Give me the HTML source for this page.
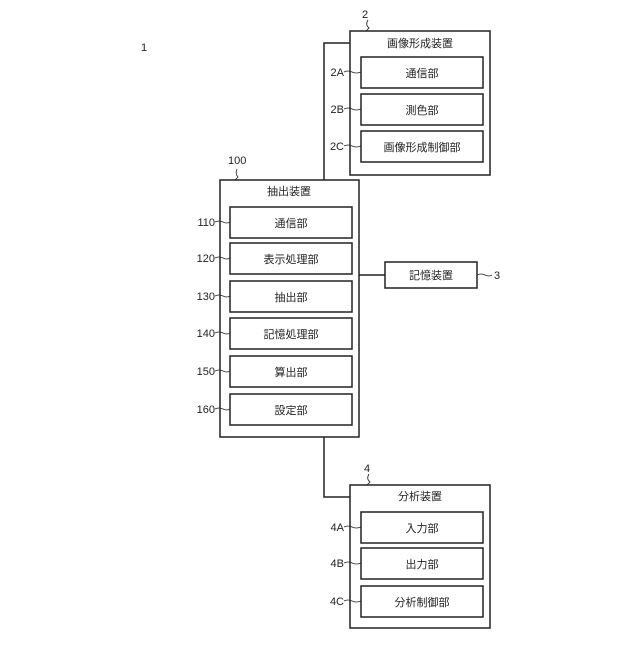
<!DOCTYPE html>
<html><head><meta charset="utf-8"><style>
body{margin:0;background:#fff;}
svg text{font-family:"Liberation Sans","Noto Sans CJK JP",sans-serif;font-size:11px;fill:#222;}
</style></head><body>
<svg width="640" height="640" viewBox="0 0 640 640" xmlns="http://www.w3.org/2000/svg">
<g fill="none" stroke="#222" stroke-width="1.5">
<rect x="350" y="31" width="140" height="144"/>
<rect x="361" y="57" width="122" height="31"/>
<rect x="361" y="94" width="122" height="31"/>
<rect x="361" y="131" width="122" height="31"/>
<polyline points="350,43 324,43 324,180"/>
<rect x="220" y="180" width="139" height="257"/>
<rect x="230" y="207" width="122" height="31"/>
<rect x="230" y="243" width="122" height="31"/>
<rect x="230" y="281" width="122" height="31"/>
<rect x="230" y="318" width="122" height="31"/>
<rect x="230" y="356" width="122" height="31"/>
<rect x="230" y="394" width="122" height="31"/>
<line x1="359" y1="275" x2="385" y2="275"/>
<rect x="385" y="262" width="92" height="26"/>
<polyline points="324,437 324,497 350,497"/>
<rect x="350" y="485" width="140" height="143"/>
<rect x="361" y="512" width="122" height="31"/>
<rect x="361" y="548" width="122" height="31"/>
<rect x="361" y="586" width="122" height="31"/>
</g>
<g fill="none" stroke="#222" stroke-width="0.8">
<path d="M368,20 q-3,5 1,8 q-2,2 -3,3"/>
<path d="M237,169 q-2,5 1,8 q-2,2 -3,3"/>
<path d="M369,474 q-3,5 1,8 q-2,2 -3,3"/>
<path d="M344,72 q4,-2 8,0 q4,2 9,0"/>
<path d="M344,109 q4,-2 8,0 q4,2 9,0"/>
<path d="M344,146 q4,-2 8,0 q4,2 9,0"/>
<path d="M344,527 q4,-2 8,0 q4,2 9,0"/>
<path d="M344,563 q4,-2 8,0 q4,2 9,0"/>
<path d="M344,601 q4,-2 8,0 q4,2 9,0"/>
<path d="M215,222 q4,-2 8,0 q4,2 7,0"/>
<path d="M215,258 q4,-2 8,0 q4,2 7,0"/>
<path d="M215,296 q4,-2 8,0 q4,2 7,0"/>
<path d="M215,333 q4,-2 8,0 q4,2 7,0"/>
<path d="M215,371 q4,-2 8,0 q4,2 7,0"/>
<path d="M215,409 q4,-2 8,0 q4,2 7,0"/>
<path d="M477,275 q4,-2 8,0 q4,2 7,0"/>
</g>
<text x="141" y="51" font-size="12">1</text>
<text x="362" y="18">2</text>
<text x="228" y="164">100</text>
<text x="364" y="472">4</text>
<text x="494" y="279">3</text>
<g text-anchor="end">
<text x="344" y="76">2A</text><text x="344" y="113">2B</text><text x="344" y="150">2C</text>
<text x="344" y="531">4A</text><text x="344" y="567">4B</text><text x="344" y="605">4C</text>
<text x="215" y="226">110</text><text x="215" y="262">120</text><text x="215" y="300">130</text>
<text x="215" y="337">140</text><text x="215" y="375">150</text><text x="215" y="413">160</text>
</g>
<g text-anchor="middle">
<text x="420" y="47">画像形成装置</text>
<text x="422" y="77">通信部</text>
<text x="422" y="114">測色部</text>
<text x="422" y="151">画像形成制御部</text>
<text x="289" y="195">抽出装置</text>
<text x="291" y="227">通信部</text>
<text x="291" y="263">表示処理部</text>
<text x="291" y="301">抽出部</text>
<text x="291" y="338">記憶処理部</text>
<text x="291" y="376">算出部</text>
<text x="291" y="414">設定部</text>
<text x="431" y="279">記憶装置</text>
<text x="420" y="500">分析装置</text>
<text x="422" y="532">入力部</text>
<text x="422" y="568">出力部</text>
<text x="422" y="606">分析制御部</text>
</g>
</svg>
</body></html>
